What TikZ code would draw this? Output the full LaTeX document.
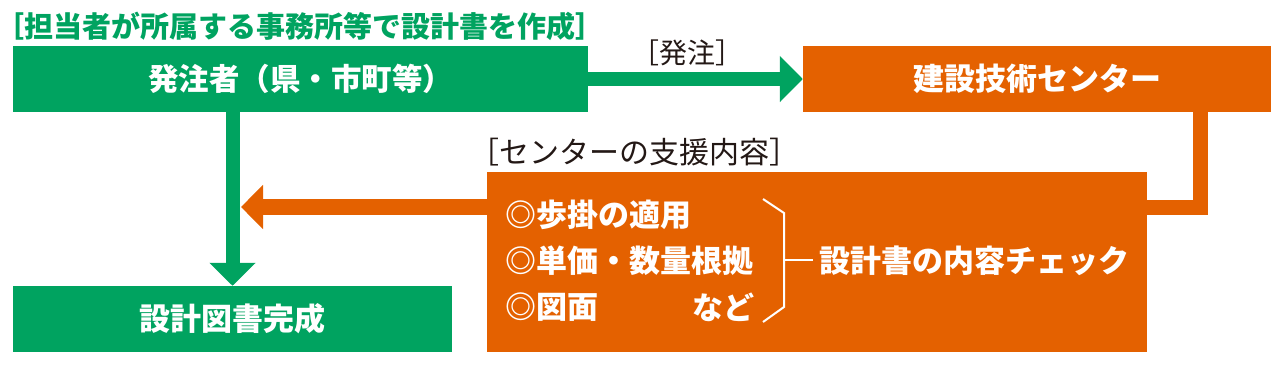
\documentclass[tikz,border=0pt]{standalone}
\usepackage{fontspec}
\setmainfont{Noto Sans CJK JP}
\usetikzlibrary{arrows.meta}
\definecolor{kgreen}{RGB}{0,163,96}
\definecolor{korange}{RGB}{228,97,0}
\definecolor{kblack}{RGB}{35,24,21}
\begin{document}
\begin{tikzpicture}[x=1pt,y=-1pt,
  box/.style={draw=none,inner sep=0pt,text=white,font=\bfseries\fontsize{31pt}{36pt}\selectfont},
  gbox/.style={box,fill=kgreen},
  obox/.style={box,fill=korange},
  item/.style={inner sep=0pt,text=white,font=\bfseries\fontsize{31pt}{36pt}\selectfont},
  lbl/.style={inner sep=0pt,text=kblack},
  garrow/.style={draw=kgreen,line width=14pt,-{Triangle[length=23pt,width=45pt]}},
  oarrow/.style={draw=korange,line width=16pt,-{Triangle[length=22pt,width=43pt]}},
  oline/.style={draw=korange,line width=15pt,line join=miter},
  brk/.style={draw=white,line width=2pt}]
\useasboundingbox (0,0) rectangle (1280,370);
% title
\node[inner sep=0pt,text=kgreen,font=\bfseries\fontsize{29pt}{34pt}\selectfont] (title) at (300,26.5) {［担当者が所属する事務所等で設計書を作成］};
% boxes
\node[gbox,minimum width=575pt,minimum height=66pt,font=\bfseries\fontsize{30.5pt}{36pt}\selectfont] (order) at (300.5,79) {発注者（県・市町等）};
\node[obox,minimum width=468pt,minimum height=66pt] (center) at (1037,79) {建設技術センター};
\node[obox,minimum width=660pt,minimum height=180pt] (support) at (817,262) {};
\node[gbox,minimum width=439pt,minimum height=66pt] (done) at (232.5,319) {設計図書完成};
% labels
\node[lbl,font=\fontsize{28pt}{32pt}\selectfont] (lorder) at (687.5,53) {［発注］};
\node[lbl,font=\fontsize{30pt}{34pt}\selectfont] (lsupport) at (634.5,152.5) {［センターの支援内容］};
% items inside support box
\node[item,anchor=west] (i1) at (505,215) {◎歩掛の適用};
\node[item,anchor=west] (i2) at (505,261) {◎単価・数量根拠};
\node[item,anchor=west] (i3) at (505,307) {◎図面};
\node[item,anchor=east] (i3b) at (755,307) {など};
\node[item,anchor=west] (check) at (819,261) {設計書の内容チェック};
% bracket
\draw[brk] (763,199) -- (784,213) -- (784,307) -- (763,322);
\draw[brk] (784,260) -- (813,260);
% connectors
\coordinate (cx) at (1200,0);
\coordinate (cy) at (0,207);
\coordinate (otip) at (241,207);
\draw[garrow] (order.east) -- (center.west);
\draw[garrow] (done.north |- order.south) -- (done.north);
\draw[oline] (center.south -| cx) |- (support.east |- cy);
\draw[oarrow] (support.west |- cy) -- (otip);
\end{tikzpicture}
\end{document}
